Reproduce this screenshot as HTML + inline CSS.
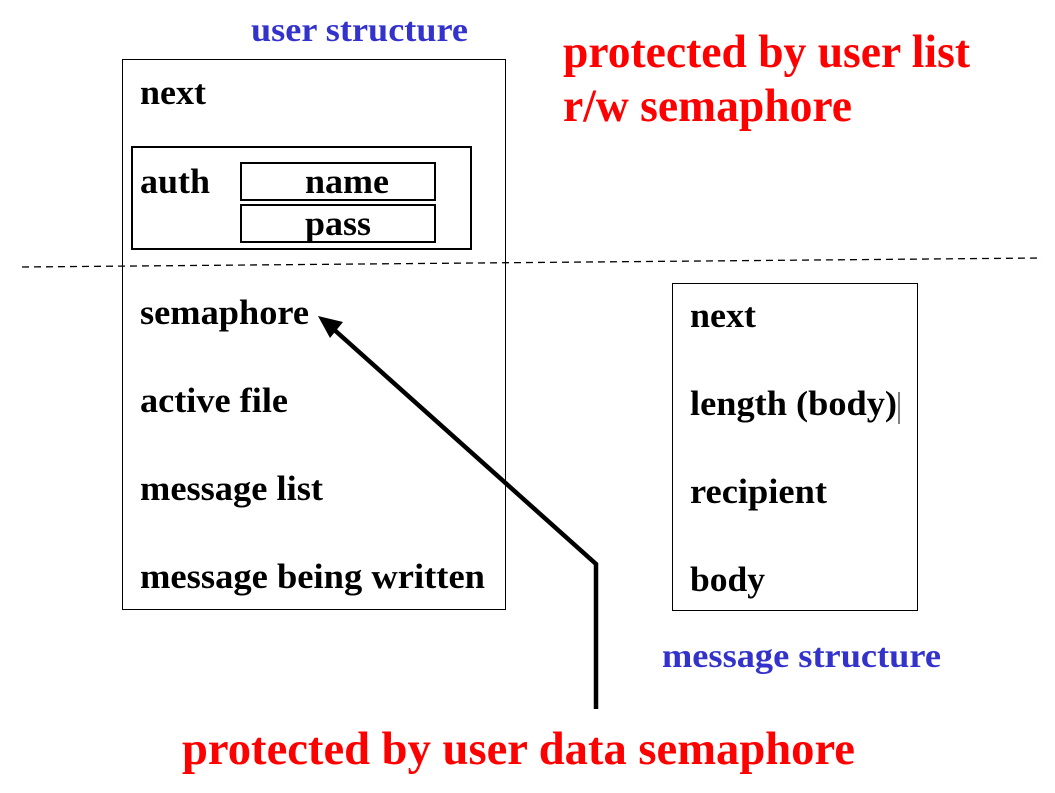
<!DOCTYPE html>
<html><head><meta charset="utf-8"><style>
html,body{margin:0;padding:0;background:#fff;}
svg{display:block;}
text{font-family:"Liberation Serif","Times New Roman",serif;font-weight:bold;}
</style></head><body>
<svg width="1055" height="793" viewBox="0 0 1055 793" xmlns="http://www.w3.org/2000/svg">
<rect x="122.5" y="59.5" width="383" height="550" fill="none" stroke="#000" stroke-width="1"/>
<rect x="132" y="147" width="339" height="102" fill="none" stroke="#000" stroke-width="2"/>
<rect x="241" y="163" width="194" height="37" fill="none" stroke="#000" stroke-width="2"/>
<rect x="241" y="205" width="194" height="37" fill="none" stroke="#000" stroke-width="2"/>
<rect x="672.5" y="283.5" width="245" height="327" fill="none" stroke="#000" stroke-width="1"/>
<line x1="22" y1="267" x2="1042" y2="258" stroke="#000" stroke-width="1.3" stroke-dasharray="7,5"/>
<polyline points="596,709 596,564 330,326" fill="none" stroke="#000" stroke-width="4.5"/>
<polygon points="318,316 343,322 330,338" fill="#000"/>
<line x1="899" y1="392" x2="899" y2="424" stroke="#000" stroke-width="1"/>

<text x="251" y="41" font-size="34" fill="#3333cc" textLength="217" lengthAdjust="spacingAndGlyphs">user structure</text>
<text x="662" y="667" font-size="34" fill="#3333cc" textLength="279" lengthAdjust="spacingAndGlyphs">message structure</text>
<text x="563" y="67" font-size="47" fill="#ff0000" textLength="407" lengthAdjust="spacingAndGlyphs">protected by user list</text>
<text x="563" y="121" font-size="47" fill="#ff0000" textLength="289" lengthAdjust="spacingAndGlyphs">r/w semaphore</text>
<text x="182" y="764" font-size="47" fill="#ff0000" textLength="673" lengthAdjust="spacingAndGlyphs">protected by user data  semaphore</text>

<g font-size="35" fill="#000">
<text x="140" y="104" textLength="66" lengthAdjust="spacingAndGlyphs">next</text>
<text x="140" y="193" textLength="70" lengthAdjust="spacingAndGlyphs">auth</text>
<text x="305" y="193" textLength="84" lengthAdjust="spacingAndGlyphs">name</text>
<text x="305" y="235" textLength="66" lengthAdjust="spacingAndGlyphs">pass</text>
<text x="140" y="324" textLength="169" lengthAdjust="spacingAndGlyphs">semaphore</text>
<text x="140" y="412" textLength="148" lengthAdjust="spacingAndGlyphs">active file</text>
<text x="140" y="500" textLength="183" lengthAdjust="spacingAndGlyphs">message list</text>
<text x="140" y="588" textLength="345" lengthAdjust="spacingAndGlyphs">message being written</text>
<text x="690" y="327" textLength="66" lengthAdjust="spacingAndGlyphs">next</text>
<text x="690" y="415" textLength="207" lengthAdjust="spacingAndGlyphs">length (body)</text>
<text x="690" y="503" textLength="137" lengthAdjust="spacingAndGlyphs">recipient</text>
<text x="690" y="591" textLength="75" lengthAdjust="spacingAndGlyphs">body</text>
</g>
</svg>
</body></html>
